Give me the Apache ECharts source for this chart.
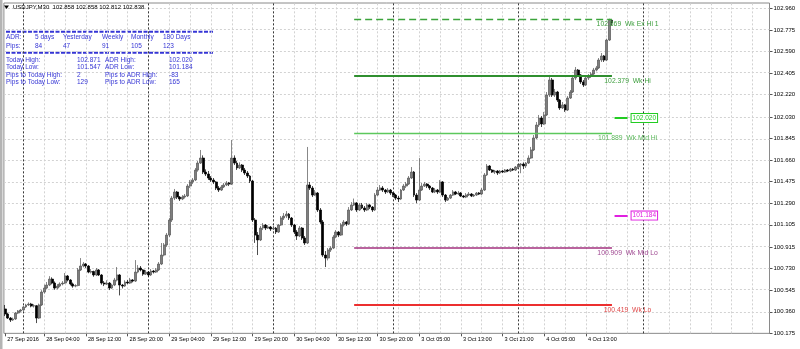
<!DOCTYPE html>
<html><head><meta charset="utf-8">
<script src="https://cdn.jsdelivr.net/npm/echarts@6/dist/echarts.min.js"></script>
<style>html,body{margin:0;padding:0;background:#fff}#c{width:800px;height:349px}</style>
</head><body><div id="c"></div>
<script>
// ---- data ----
const opens = [
100.384,100.341,100.306,100.289,100.298,100.349,100.366,100.375,100.401,100.418,
100.426,100.409,100.412,100.306,100.418,100.529,100.563,100.589,100.640,100.606,
100.563,100.580,100.598,100.606,100.666,100.632,100.598,100.580,100.585,100.718,
100.752,100.769,100.752,100.700,100.705,100.675,100.718,100.675,100.606,100.598,
100.606,100.563,100.589,100.632,100.675,100.589,100.580,100.615,100.606,100.632,
100.623,100.700,100.735,100.718,100.683,100.700,100.675,100.709,100.700,100.718,
100.769,100.846,100.932,101.017,101.146,101.334,101.386,101.343,101.326,101.343,
101.352,101.437,101.472,101.489,101.574,101.634,101.677,101.557,101.540,101.506,
101.489,101.472,101.420,101.403,101.429,101.446,101.463,101.454,101.677,101.634,
101.592,101.617,101.574,101.549,101.523,101.480,101.146,101.017,100.975,101.077,
101.103,101.077,101.086,101.069,101.077,101.043,101.103,101.163,101.180,101.197,
101.163,101.103,101.043,101.009,101.077,100.992,100.949,101.446,101.420,101.360,
101.377,101.232,101.129,100.846,100.820,100.889,100.906,101.000,101.043,101.017,
101.103,101.129,101.112,101.232,101.275,101.292,101.232,101.275,101.249,101.232,
101.275,101.257,101.232,101.360,101.403,101.420,101.403,101.386,101.403,101.377,
101.360,101.334,101.326,101.403,101.437,101.454,101.506,101.557,101.360,101.317,
101.403,101.437,101.454,101.437,101.420,101.386,101.403,101.386,101.472,101.360,
101.317,101.334,101.360,101.386,101.369,101.377,101.352,101.343,101.360,101.369,
101.352,101.360,101.377,101.369,101.403,101.532,101.609,101.574,101.557,101.566,
101.549,101.566,101.557,101.574,101.566,101.583,101.574,101.600,101.617,101.626,
101.609,101.634,101.677,101.746,101.849,101.960,102.020,101.969,102.046,102.217,
102.346,102.217,102.243,102.174,102.106,102.132,102.089,102.191,102.243,102.363,
102.431,102.389,102.329,102.303,102.363,102.380,102.397,102.431,102.449,102.517,
102.551,102.517,102.688,102.858];
const highs = [
100.418,100.352,100.315,100.310,100.358,100.375,100.384,100.410,100.428,100.440,
100.436,100.425,100.418,100.430,100.545,100.592,100.615,100.665,100.655,100.620,
100.598,100.612,100.623,100.692,100.675,100.640,100.610,100.596,100.735,100.820,
100.786,100.778,100.760,100.726,100.712,100.735,100.726,100.683,100.623,100.630,
100.615,100.600,100.650,100.743,100.683,100.598,100.630,100.632,100.650,100.640,
100.803,100.760,100.752,100.726,100.718,100.709,100.726,100.718,100.735,100.786,
100.949,100.949,101.035,101.163,101.352,101.412,101.395,101.352,101.360,101.369,
101.454,101.489,101.506,101.592,101.652,101.746,101.700,101.580,101.566,101.523,
101.506,101.480,101.437,101.446,101.463,101.480,101.472,101.832,101.700,101.652,
101.640,101.626,101.592,101.566,101.532,101.489,101.163,101.043,101.095,101.120,
101.112,101.103,101.095,101.095,101.086,101.112,101.180,101.206,101.223,101.206,
101.172,101.112,101.060,101.095,101.086,101.009,101.772,101.472,101.437,101.403,
101.386,101.249,101.146,100.880,100.906,100.923,101.017,101.060,101.052,101.120,
101.146,101.137,101.257,101.300,101.330,101.300,101.292,101.292,101.266,101.292,
101.283,101.266,101.377,101.429,101.446,101.437,101.412,101.420,101.412,101.386,
101.369,101.352,101.412,101.454,101.472,101.523,101.600,101.566,101.377,101.677,
101.463,101.472,101.463,101.446,101.429,101.420,101.412,101.489,101.480,101.369,
101.343,101.369,101.403,101.395,101.395,101.386,101.360,101.377,101.386,101.377,
101.369,101.386,101.386,101.420,101.549,101.626,101.617,101.583,101.575,101.574,
101.575,101.575,101.583,101.583,101.592,101.592,101.609,101.626,101.634,101.640,
101.643,101.700,101.772,101.874,101.986,102.046,102.037,102.072,102.243,102.389,
102.363,102.269,102.252,102.183,102.157,102.140,102.208,102.260,102.389,102.457,
102.440,102.397,102.346,102.380,102.397,102.414,102.449,102.466,102.534,102.577,
102.560,102.700,102.871,102.858];
const lows = [
100.323,100.298,100.272,100.281,100.290,100.340,100.356,100.368,100.392,100.410,
100.398,100.396,100.263,100.298,100.410,100.515,100.552,100.580,100.595,100.548,
100.552,100.570,100.586,100.598,100.620,100.586,100.566,100.570,100.578,100.709,
100.740,100.735,100.690,100.688,100.660,100.666,100.666,100.592,100.580,100.589,
100.546,100.555,100.580,100.620,100.500,100.560,100.572,100.596,100.598,100.612,
100.615,100.690,100.706,100.668,100.675,100.658,100.666,100.688,100.692,100.709,
100.760,100.835,100.915,101.000,101.129,101.317,101.326,101.309,101.317,101.330,
101.343,101.420,101.454,101.480,101.560,101.626,101.540,101.523,101.489,101.472,
101.454,101.403,101.386,101.395,101.420,101.437,101.437,101.446,101.617,101.575,
101.583,101.557,101.532,101.506,101.463,101.129,100.950,100.846,100.966,101.060,
101.060,101.069,101.052,101.060,101.026,101.035,101.095,101.146,101.163,101.146,
101.086,101.026,100.975,101.000,100.975,100.932,100.940,101.403,101.343,101.352,
101.215,101.112,100.830,100.743,100.800,100.872,100.897,100.990,101.000,101.009,
101.090,101.095,101.103,101.223,101.266,101.215,101.223,101.240,101.215,101.223,
101.240,101.215,101.223,101.352,101.395,101.386,101.369,101.377,101.360,101.343,
101.317,101.300,101.317,101.395,101.420,101.446,101.497,101.343,101.290,101.309,
101.395,101.429,101.420,101.403,101.377,101.377,101.369,101.377,101.343,101.300,
101.309,101.326,101.352,101.360,101.360,101.343,101.334,101.334,101.352,101.343,
101.343,101.352,101.360,101.360,101.395,101.523,101.566,101.549,101.540,101.532,
101.540,101.549,101.549,101.557,101.557,101.566,101.566,101.583,101.547,101.583,
101.592,101.626,101.669,101.737,101.840,101.943,101.943,101.960,102.037,102.200,
102.200,102.200,102.157,102.089,102.097,102.072,102.080,102.183,102.234,102.346,
102.372,102.312,102.286,102.295,102.346,102.363,102.389,102.420,102.440,102.500,
102.500,102.509,102.680,102.812];
const closes = [
100.341,100.306,100.289,100.298,100.349,100.366,100.375,100.401,100.418,100.426,
100.409,100.412,100.306,100.418,100.529,100.563,100.589,100.640,100.606,100.563,
100.580,100.598,100.606,100.666,100.632,100.598,100.580,100.585,100.718,100.752,
100.769,100.752,100.700,100.705,100.675,100.718,100.675,100.606,100.598,100.606,
100.563,100.589,100.632,100.675,100.589,100.580,100.615,100.606,100.632,100.623,
100.700,100.735,100.718,100.683,100.700,100.675,100.709,100.700,100.718,100.769,
100.846,100.932,101.017,101.146,101.334,101.386,101.343,101.326,101.343,101.352,
101.437,101.472,101.489,101.574,101.634,101.677,101.557,101.540,101.506,101.489,
101.472,101.420,101.403,101.429,101.446,101.463,101.454,101.677,101.634,101.592,
101.617,101.574,101.549,101.523,101.480,101.146,101.017,100.975,101.077,101.103,
101.077,101.086,101.069,101.077,101.043,101.103,101.163,101.180,101.197,101.163,
101.103,101.043,101.009,101.077,100.992,100.949,101.446,101.420,101.360,101.377,
101.232,101.129,100.846,100.820,100.889,100.906,101.000,101.043,101.017,101.103,
101.129,101.112,101.232,101.275,101.292,101.232,101.275,101.249,101.232,101.275,
101.257,101.232,101.360,101.403,101.420,101.403,101.386,101.403,101.377,101.360,
101.334,101.326,101.403,101.437,101.454,101.506,101.557,101.360,101.317,101.403,
101.437,101.454,101.437,101.420,101.386,101.403,101.386,101.472,101.360,101.317,
101.334,101.360,101.386,101.369,101.377,101.352,101.343,101.360,101.369,101.352,
101.360,101.377,101.369,101.403,101.532,101.609,101.574,101.557,101.566,101.549,
101.566,101.557,101.574,101.566,101.583,101.574,101.600,101.617,101.626,101.609,
101.634,101.677,101.746,101.849,101.960,102.020,101.969,102.046,102.217,102.346,
102.217,102.243,102.174,102.106,102.132,102.089,102.191,102.243,102.363,102.431,
102.389,102.329,102.303,102.363,102.380,102.397,102.431,102.449,102.517,102.551,
102.517,102.688,102.858,102.838];

const tickIdx = [0,15,31,47,63,79,95,111,127,143,159,175,191,207,223];
const tickLabels = ['27 Sep 2016','28 Sep 04:00','28 Sep 12:00','28 Sep 20:00','29 Sep 04:00','29 Sep 12:00','29 Sep 20:00','30 Sep 04:00','30 Sep 12:00','30 Sep 20:00','3 Oct 05:00','3 Oct 13:00','3 Oct 21:00','4 Oct 05:00','4 Oct 13:00'];
const priceTicks = [100.175,100.360,100.545,100.730,100.915,101.105,101.290,101.475,101.660,101.845,102.030,102.220,102.405,102.590,102.775,102.960];
const separators = [7,55,103,149,197,245];
const levelNames = ['Wk Ex Hi 1','Wk Hi','Wk Mid Hi','Wk Mid Lo','Wk Lo'];
const levelValues = [102.869,102.379,101.889,100.909,100.419];
const adrLevelValues = [102.020,101.184];
const lastPrice = 102.838;
const titleText = 'USDJPY,M30  102.858 102.858 102.812 102.838';
const adrHeaders = ['5 days','Yesterday','Weekly','Monthly','180 Days'];
const adrPips = [84,47,91,105,123];
const statLabelsL = ['Today High:','Today Low:','Pips to Today High:','Pips to Today Low:'];
const statValuesL = ['102.871','101.547','2','129'];
const statLabelsR = ['ADR High:','ADR Low:','Pips to ADR High:','Pips to ADR Low:'];
const statValuesR = ['102.020','101.184','-83','165'];

// ---- layout / style ----
const NCAT = 294;
const lineStart = 134, lineEnd = 233, labelAt = 239, adrStart = 234, adrEnd = 239;
const FONT = '"Liberation Sans", Arial, sans-serif';
const BLUE = '#3535d5';
const levelLine = [
  {color:'#3ca43c', width:1.3, type:[7,4], opacity:1},
  {color:'#2f8f2f', width:2, type:'solid', opacity:1},
  {color:'#5cc85c', width:1.3, type:'solid', opacity:1},
  {color:'#a2307e', width:1.5, type:'solid', opacity:1},
  {color:'#ec2f2f', width:2, type:'solid', opacity:1}
];
const levelText = ['#3c9e3c','#3c9e3c','#5cb85c','#a04a92','#e04848'];
const adrColors = ['#22cc22','#e020e0'];

const cats = [];
for (let i = 0; i < NCAT; i++) cats.push('c' + i);
const tickSet = new Set(tickIdx);
const tickMap = {};
tickIdx.forEach((t, k) => { tickMap['c' + t] = tickLabels[k]; });
const ohlc = closes.map((c, i) => [opens[i], c, lows[i], highs[i]]);

const gridLines = [];
for (let k = 7; k < NCAT; k += 8) gridLines.push({xAxis: k, lineStyle: {color:'#d2d2d2', type:[2,2], width:1}});
priceTicks.forEach(v => gridLines.push({yAxis: v, lineStyle: {color:'#d2d2d2', type:[2,2], width:1}}));
separators.forEach(s => gridLines.push({xAxis: s, lineStyle: {color:'#3a3a3a', type:[2,2], width:1}}));

const levelPairs = levelValues.map((v, k) => [
  {coord:[lineStart, v], lineStyle: levelLine[k]},
  {coord:[lineEnd, v], lineStyle: levelLine[k]}
]);
adrLevelValues.forEach((v, k) => {
  const ls = {color: adrColors[k], width:2, type:'solid', opacity:1};
  const lb = {show:true, position:'end', distance:4, formatter: v.toFixed(3), color: adrColors[k],
     borderColor: adrColors[k], borderWidth:1, backgroundColor:'#fff', padding:[1,1,0,1],
     fontSize:6.5, fontFamily: FONT};
  levelPairs.push([{coord:[adrStart, v], lineStyle: ls, label: lb}, {coord:[adrEnd, v], lineStyle: ls, label: lb}]);
});

const levelLabels = levelValues.map((v, k) => ({
  coord:[labelAt, v],
  label:{show:true, position:'inside', offset:[0,5], formatter: v.toFixed(3) + '  ' + levelNames[k],
    color: levelText[k], fontSize:6.8, fontFamily: FONT}
}));

function txt(x, y, t, color, size) {
  return {type:'text', x:x, y:y, silent:true, z:100,
    style:{text:String(t), fill: color || BLUE, font:(size || 6.5) + 'px ' + FONT,
      textAlign:'left', textVerticalAlign:'middle'}};
}
const graphics = [
  {type:'rect', shape:{x:0, y:0, width:2.5, height:349}, style:{fill:'#b4b4b4'}, silent:true},
  {type:'polygon', shape:{points:[[4,5.5],[9,5.5],[6.5,9]]}, style:{fill:'#000'}, silent:true},
  txt(13, 7.5, titleText, '#000', 6),
  {type:'line', shape:{x1:6, y1:31.7, x2:213, y2:31.7}, style:{stroke:BLUE, lineWidth:2, lineDash:[4,1.5]}, silent:true},
  {type:'line', shape:{x1:6, y1:52.7, x2:213, y2:52.7}, style:{stroke:BLUE, lineWidth:2, lineDash:[4,1.5]}, silent:true},
  txt(6, 37.7, 'ADR:'), txt(6, 46, 'Pips:')
];
const adrCols = [35, 63, 102, 131, 163];
adrHeaders.forEach((h, k) => { graphics.push(txt(adrCols[k], 37.7, h)); graphics.push(txt(adrCols[k], 46, adrPips[k])); });
const rowY = [60.7, 67.7, 75, 82.3];
statLabelsL.forEach((s, k) => {
  graphics.push(txt(6, rowY[k], s));
  graphics.push(txt(77, rowY[k], statValuesL[k]));
  graphics.push(txt(105, rowY[k], statLabelsR[k]));
  graphics.push(txt(169, rowY[k], statValuesR[k]));
});

const chart = echarts.init(document.getElementById('c'));
chart.setOption({
  animation:false,
  backgroundColor:'#ffffff',
  textStyle:{fontFamily: FONT},
  grid:{left:3.9, right:30.5, top:3, bottom:15.65, show:true, borderColor:'#8a8a8a', borderWidth:1, containLabel:false},
  xAxis:{
    type:'category', data:cats, boundaryGap:true,
    axisLine:{show:false},
    axisTick:{show:true, alignWithLabel:true, interval:(i) => tickSet.has(i), length:3, lineStyle:{color:'#555'}},
    axisLabel:{show:true, interval:(i) => tickSet.has(i), formatter:(v) => tickMap[v] || '',
      align:'left', fontSize:5.6, margin:3.5, color:'#000', padding:[0,0,0,2], fontFamily: FONT},
    splitLine:{show:false}
  },
  yAxis:{
    type:'value', position:'right', min:100.175, max:103.0055, scale:true,
    axisLine:{show:false},
    axisTick:{show:true, customValues: priceTicks, length:3, lineStyle:{color:'#555'}},
    axisLabel:{show:true, customValues: priceTicks, formatter:(v) => v.toFixed(3), fontSize:6, margin:4, color:'#000', fontFamily: FONT},
    splitLine:{show:false}
  },
  series:[
    {
      type:'line', data:[], silent:true, z:1,
      markLine:{silent:true, z:1, symbol:['none','none'], label:{show:false}, data: gridLines.concat([
        {yAxis:lastPrice, lineStyle:{opacity:0},
         label:{show:true, position:'end', distance:1.5, formatter: lastPrice.toFixed(3), color:'#fff',
           backgroundColor:'#000', padding:[1.5,2,1,2], fontSize:6, fontFamily: FONT}}
      ])}
    },
    {
      type:'candlestick', data: ohlc, barWidth:2.4, z:3,
      itemStyle:{color:'#7e7e7e', color0:'#000000', borderColor:'#555555', borderColor0:'#000000', borderWidth:0.7}
    },
    {
      type:'line', data:[], silent:true, z:4, color:'#3c9e3c',
      markLine:{silent:true, z:4, symbol:['none','none'], label:{show:false}, data: levelPairs},
      markPoint:{silent:true, z:6, symbol:'rect', symbolSize:0.01, data: levelLabels}
    }
  ],
  graphic: graphics
});
</script>
</body></html>
